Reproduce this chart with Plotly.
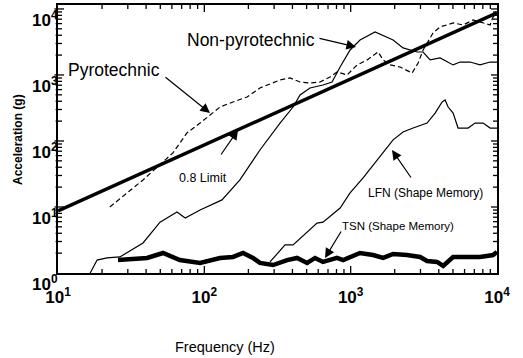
import math
import plotly.graph_objects as go

# ---------------- data ----------------
limit_freq = [10, 10000]
limit_acc = [8.7, 8700]

pyro_freq = [22.6, 38.1, 61, 68, 76, 93.5, 115, 128, 157, 196, 240, 329, 385, 451, 527, 618, 723,
             807, 945, 1107, 1294, 1540, 1667, 1859, 2177, 2628, 2891, 3126, 3656, 4085, 5012,
             5865, 6866, 7656, 8975, 9399, 10000]
pyro_acc = [10, 25.7, 66, 93, 132, 187, 265, 327, 390, 464, 635, 840, 901, 783, 756, 783, 933,
            1110, 1000, 1420, 1690, 2230, 1690, 1420, 1320, 1070, 1520, 2390, 4330, 5340, 6140,
            5720, 6810, 6350, 5720, 7570, 8110]

nonpyro_freq = [16.6, 18.5, 21.6, 26.5, 38.1, 49.8, 65, 74, 93.5, 132, 175, 240, 329, 404, 451,
                527, 647, 746, 847, 991, 1159, 1468, 1950, 2280, 2845, 3126, 3490, 4085, 5012,
                5596, 6546, 7656, 8975, 10000]
nonpyro_acc = [1.0, 1.57, 1.69, 1.75, 2.85, 5.9, 8.4, 6.8, 9.0, 12.8, 25.7, 73, 187, 327, 498,
               635, 705, 783, 1320, 2390, 3390, 4480, 3390, 2570, 2230, 2230, 1690, 1810, 1420,
               1570, 1570, 1420, 1570, 1570]

lfn_freq = [281, 356, 404, 589, 647, 847, 991, 1216, 1950, 2280, 2671, 3327, 3776, 4218, 4419,
            4634, 5012, 5420, 6343, 7080, 8035, 8975, 10000]
lfn_acc = [1.47, 2.66, 2.66, 5.7, 5.9, 9.66, 16.3, 27.5, 104, 137, 157, 187, 265, 390, 418,
           327, 265, 157, 157, 187, 187, 157, 157]

tsn_freq = [25.7, 40.6, 52.2, 68, 93.5, 128, 157, 184, 215, 240, 295, 368, 430, 504, 571, 647,
            807, 888, 1159, 1422, 1667, 1950, 2428, 2981, 3327, 3899, 4285, 5012, 6252, 7656,
            9399, 10000]
tsn_acc = [1.57, 1.69, 2.01, 1.57, 1.42, 1.69, 1.75, 2.01, 1.69, 1.42, 1.32, 1.57, 1.69, 1.42,
           1.69, 1.47, 1.69, 1.57, 2.01, 1.87, 1.69, 1.94, 1.87, 1.75, 1.52, 1.47, 1.28, 1.75,
           1.75, 1.75, 1.87, 2.08]

x_tickvals = [10, 100, 1000, 10000]
x_ticktext = ["<b>10<sup>1</sup></b>", "<b>10<sup>2</sup></b>", "<b>10<sup>3</sup></b>",
              "<b>10<sup>4</sup></b>"]
y_tickvals = [1, 10, 100, 1000, 10000]
y_ticktext = ["<b>10<sup>0</sup></b>", "<b>10<sup>1</sup></b>", "<b>10<sup>2</sup></b>",
              "<b>10<sup>3</sup></b>", "<b>10<sup>4</sup></b>"]
x_minor = [m * 10 ** k for k in range(1, 4) for m in range(2, 10)]
y_minor = [m * 10 ** k for k in range(0, 4) for m in range(2, 10)]

# ---------------- figure ----------------
W, H = 523, 358
L, R, T, B = 58, 26, 5, 85
PW, PH = W - L - R, H - T - B
XR = [1, 4]
YR = [0, 4.06]

def px(x):
    return (x - L) / PW

def py(y):
    return (H - B - y) / PH

def xfrac(v):
    return (math.log10(v) - XR[0]) / (XR[1] - XR[0])

def yfrac(v):
    return (math.log10(v) - YR[0]) / (YR[1] - YR[0])

FONT = "Liberation Sans, Arial, sans-serif"

fig = go.Figure()
fig.add_trace(go.Scatter(x=nonpyro_freq, y=nonpyro_acc, mode="lines",
                         line=dict(color="black", width=1.2), name="Non-pyrotechnic"))
fig.add_trace(go.Scatter(x=pyro_freq, y=pyro_acc, mode="lines",
                         line=dict(color="black", width=1.2, dash="5px,3px"), name="Pyrotechnic"))
fig.add_trace(go.Scatter(x=lfn_freq, y=lfn_acc, mode="lines",
                         line=dict(color="black", width=1.2), name="LFN (Shape Memory)"))
fig.add_trace(go.Scatter(x=tsn_freq, y=tsn_acc, mode="lines",
                         line=dict(color="black", width=4.5), name="TSN (Shape Memory)"))
fig.add_trace(go.Scatter(x=limit_freq, y=limit_acc, mode="lines",
                         line=dict(color="black", width=3.5), name="0.8 Limit"))

axis_common = dict(
    type="log", showgrid=False, zeroline=False, automargin=False,
    showline=True, linecolor="black", linewidth=2, mirror=True,
    ticks="", tickfont=dict(family=FONT, size=17, color="black"),
)

fig.update_xaxes(**axis_common, range=XR, tickmode="array",
                 tickvals=x_tickvals, ticktext=x_ticktext, ticklabelstandoff=8)
fig.update_yaxes(**axis_common, range=YR, tickmode="array",
                 tickvals=y_tickvals, ticktext=y_ticktext, ticklabelstandoff=-5,
                 ticklabelshift=11)

# tick marks drawn as short pixel-sized segments at the tick values
shapes = []
def tick_x(v, ln):
    f = xfrac(v)
    for anchor, a, b in ((0, 0, ln), (1, 0, -ln)):
        shapes.append(dict(type="line", xref="paper", yref="paper", x0=f, x1=f,
                           ysizemode="pixel", yanchor=anchor, y0=a, y1=b,
                           line=dict(color="black", width=1.3)))

def tick_y(v, ln):
    f = yfrac(v)
    for anchor, a, b in ((0, -ln * 0.6, ln), (1, 0, -ln)):
        shapes.append(dict(type="line", xref="paper", yref="paper", y0=f, y1=f,
                           xsizemode="pixel", xanchor=anchor, x0=a, x1=b,
                           line=dict(color="black", width=1.3)))

for v in x_tickvals[1:-1]:
    tick_x(v, 7)
for v in x_minor:
    tick_x(v, 4)
for v in y_tickvals[1:]:
    tick_y(v, 6)
for v in y_minor:
    tick_y(v, 4)

ann = []
def label(text, x, y, size, bold=False, angle=0):
    ann.append(dict(text=("<b>%s</b>" % text) if bold else text,
                    xref="paper", yref="paper", x=px(x), y=py(y),
                    xanchor="center", yanchor="middle",
                    showarrow=False, textangle=angle,
                    font=dict(family=FONT, size=size, color="black")))

def arrow(tx, ty, hx, hy):
    ann.append(dict(text="", xref="paper", yref="paper", x=px(hx), y=py(hy),
                    ax=tx - hx, ay=ty - hy, axref="pixel", ayref="pixel",
                    showarrow=True, arrowhead=2, arrowsize=1.6, arrowwidth=1.2,
                    arrowcolor="black", standoff=0, startstandoff=0))

label("Pyrotechnic", 114, 70, 17.5)
label("Non-pyrotechnic", 251, 40, 17.5)
label("0.8 Limit", 203, 178, 12.5)
label("LFN (Shape Memory)", 425, 193, 12)
label("TSN (Shape Memory)", 398, 226, 11.5)
label("Acceleration (g)", 18, 140, 12, bold=True, angle=-90)
label("Frequency (Hz)", 225, 347, 14.5)

arrow(164, 76, 210, 113)
arrow(318, 38, 356, 47)
arrow(220, 156, 238, 130)
arrow(412, 179, 392, 150)
arrow(342, 230, 325, 258)

fig.update_layout(
    width=W, height=H, margin=dict(l=L, r=R, t=T, b=B, autoexpand=False),
    paper_bgcolor="white", plot_bgcolor="white",
    showlegend=False, annotations=ann, shapes=shapes,
    font=dict(family=FONT, color="black"),
)

fig.write_html("out.html", config={"displayModeBar": False},
               post_script="document.body.style.margin='0';")
